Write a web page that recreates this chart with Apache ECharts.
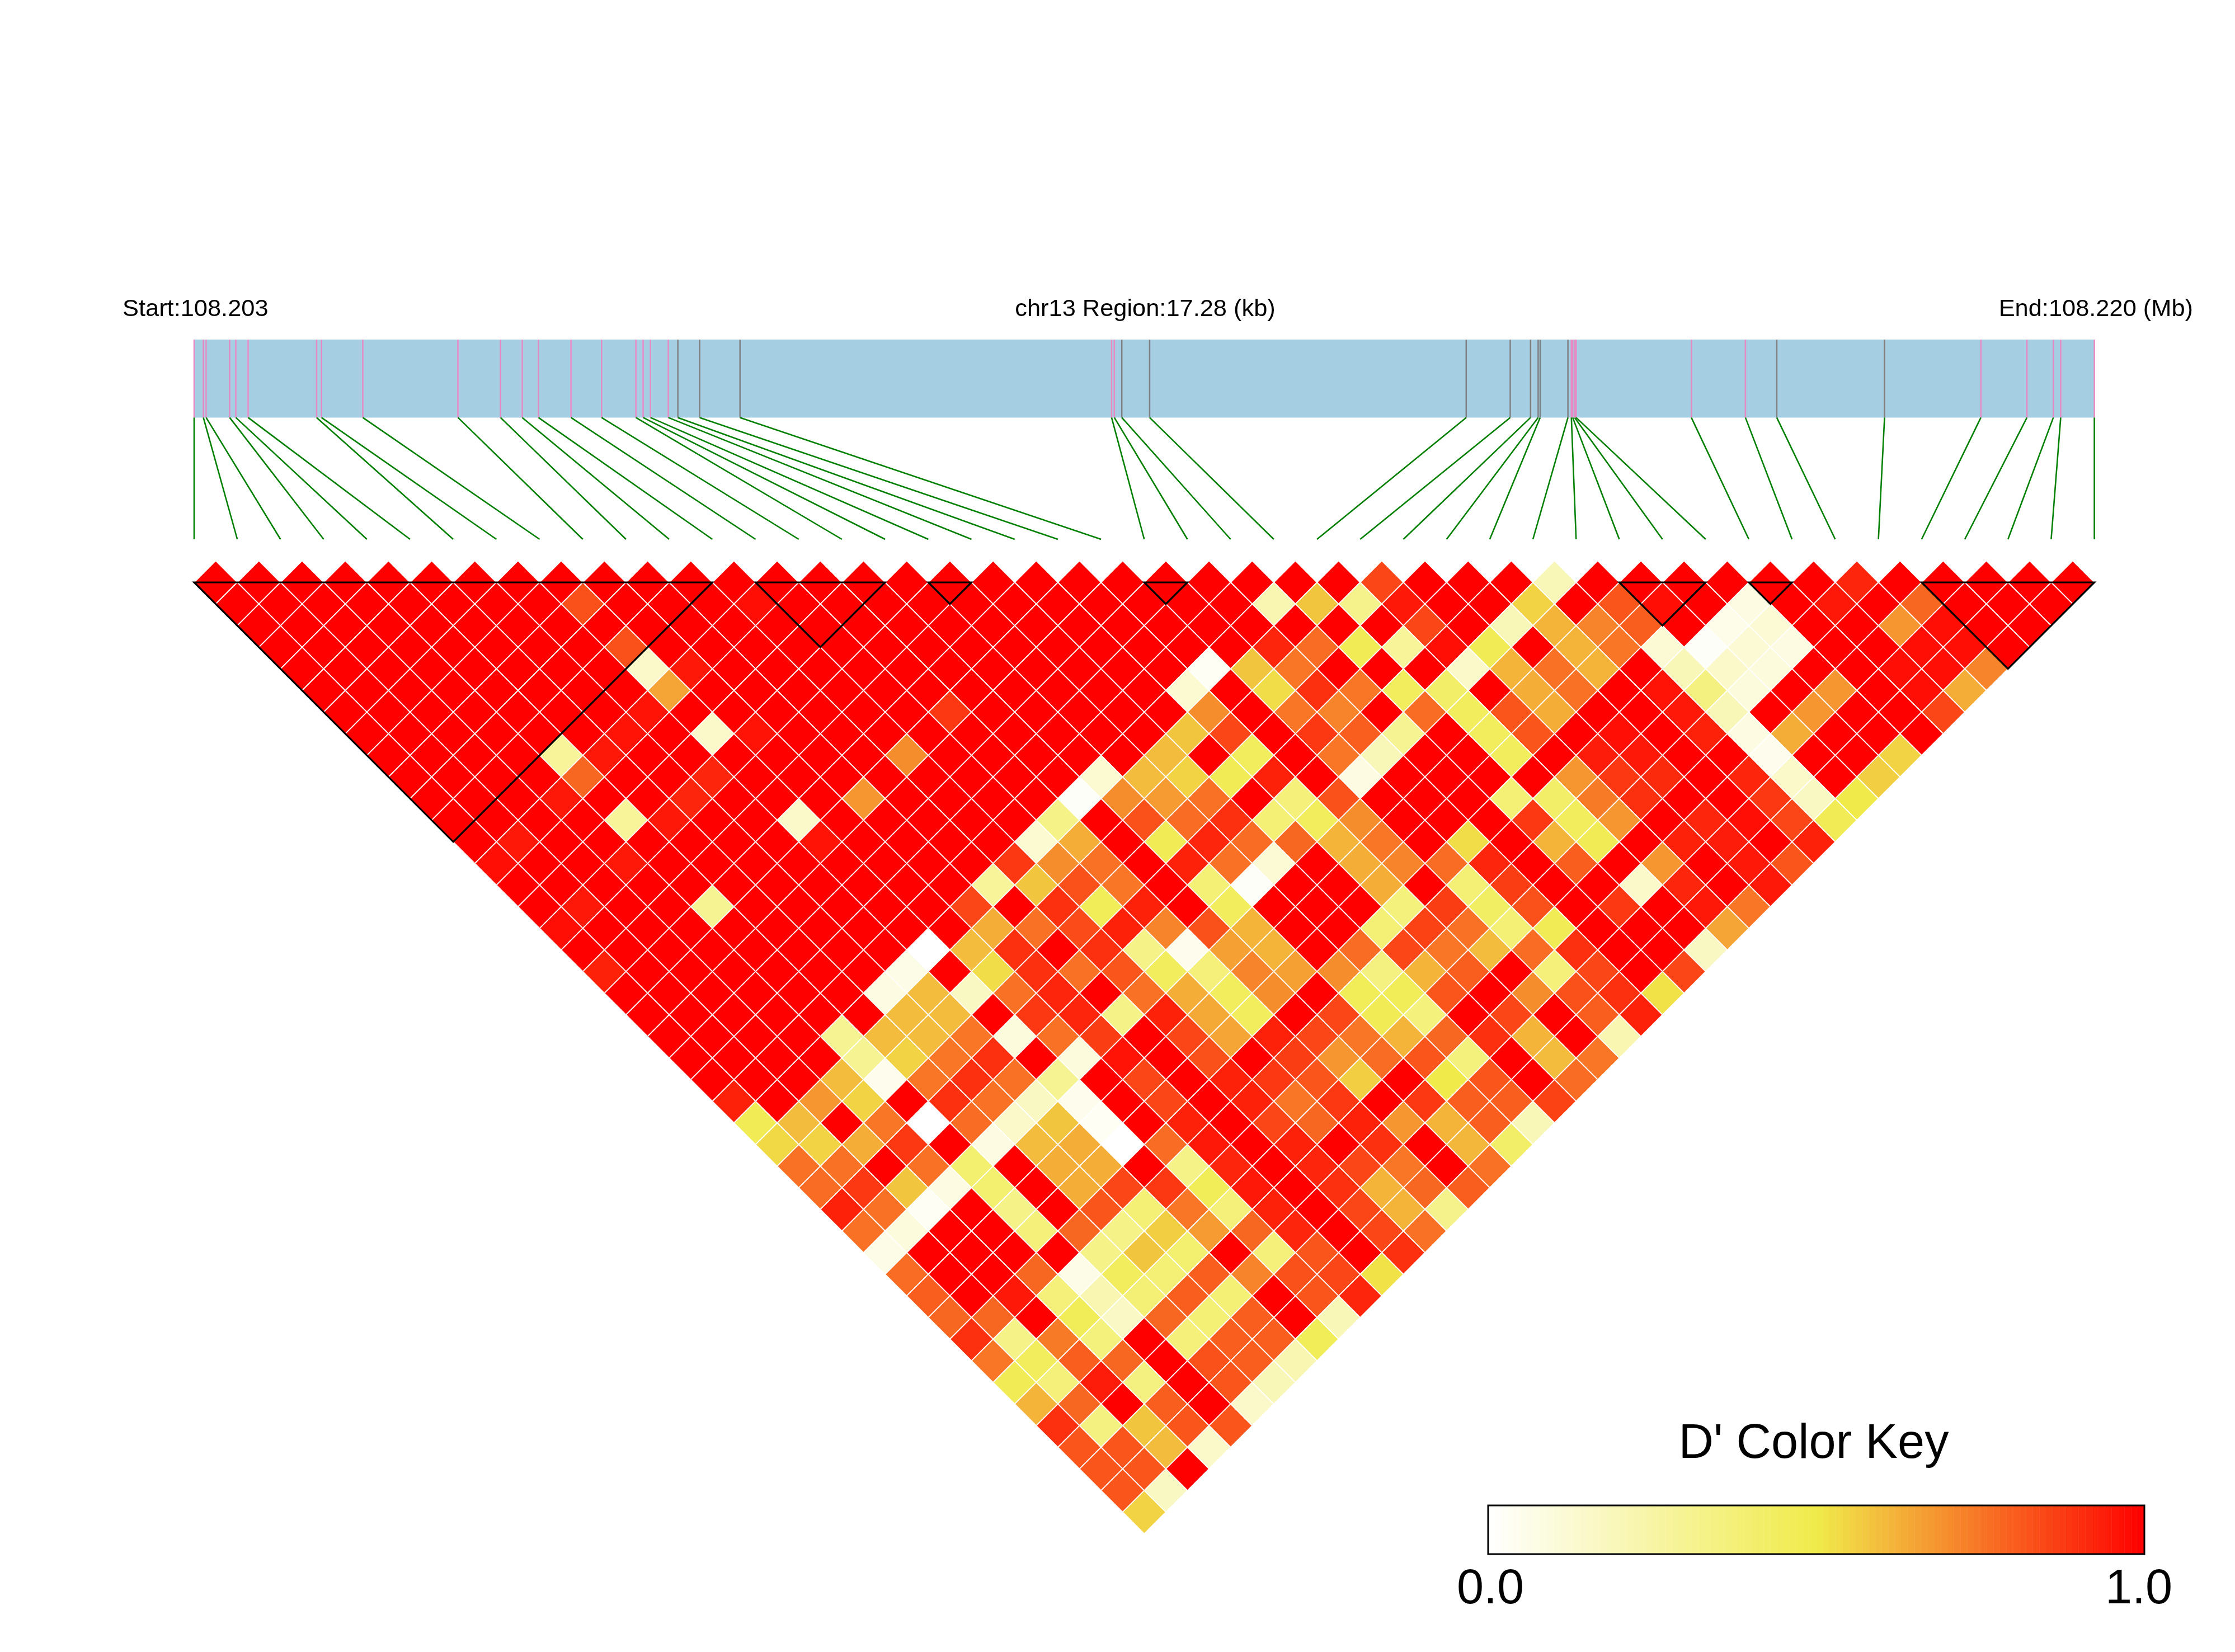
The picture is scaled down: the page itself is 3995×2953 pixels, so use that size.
<!DOCTYPE html>
<html>
<head>
<meta charset="utf-8">
<style>html,body{margin:0;padding:0;background:#fff}#chart{width:3995px;height:2953px}</style>
<script src="https://cdn.jsdelivr.net/npm/echarts@6/dist/echarts.min.js"></script>
</head>
<body>
<div id="chart"></div>
<script>
// SNP positions along the region, in kb from the region start
const snpKb = [0,0.084,0.109,0.323,0.379,0.491,1.114,1.158,1.534,2.399,2.786,2.984,3.131,3.427,3.705,4.017,4.083,4.150,4.312,4.399,4.597,4.964,
  8.343,8.368,8.436,8.689,11.568,11.968,12.153,12.222,12.240,12.493,12.524,12.536,12.554,12.567,13.615,14.107,14.392,15.372,16.248,16.667,16.907,16.974,17.28];
// 1 = pink marker, 0 = grey marker
const snpPink = [1,1,1,1,1,1,1,1,1,1,1,1,1,1,1,1,1,1,1,0,0,0,1,1,0,0,0,0,0,0,0,0,1,1,1,1,1,1,0,0,1,1,1,1,1];
// LD blocks: first and last SNP index
const blockStart = [0,13,17,22,33,36,40];
const blockEnd   = [12,16,18,23,35,37,44];
// D' values by distance between SNPs (row 1 = neighbours)
const row01 = [1,1,1,1,1,1,1,1,1,1,1,1,1,1,1,1,1,1,1,1,1,1,1,1,1,1,1,.85,1,1,1,.2,1,1,1,1,1,1,.92,1,1,1,1,1];
const row02 = [1,1,1,1,1,1,1,1,.83,1,1,1,.97,1,1,1,1,1,1,1,1,1,1,1,.22,.58,.32,.95,1,1,.55,1,.82,.97,1,.08,1,.95,1,.78,1,1,1];
const row03 = [1,1,1,1,1,1,1,1,1,1,1,1,1,1,1,1,1,1,1,1,1,1,1,1,1,1,1,.85,1,.2,.62,.72,.8,1,.06,.12,1,1,.68,.97,1,1];
const row04 = [1,1,1,1,1,1,1,1,.83,1,1,1,1,1,1,1,1,1,1,1,1,1,1,.92,.77,.47,.28,.97,.47,1,.62,.75,.12,.02,.12,.08,1,1,.97,.97,1];
const row05 = [1,1,1,1,1,1,1,1,.15,.95,1,1,1,1,1,1,1,1,1,1,1,.03,.58,.75,1,1,1,.15,.62,.76,.62,1,.2,.15,.1,1,1,.97,.97,.72];
const row06 = [1,1,1,1,1,1,1,1,.65,1,1,1,1,1,1,1,1,1,1,1,.13,1,.53,.9,.75,.45,.42,1,.63,.76,1,.96,.35,.1,1,.68,1,.97,.63];
const row07 = [1,1,1,1,1,1,1,.96,1,1,1,1,1,1,.88,1,1,1,1,1,.7,1,.75,.72,1,.77,.45,.82,.63,1,1,.95,.2,1,.68,1,1,.85];
const row08 = [1,1,1,1,1,1,.96,1,.15,.96,1,1,1,1,1,1,1,1,1,.58,.85,1,.88,.8,.3,1,.45,.82,1,.97,1,.93,.08,.63,1,1,1];
const row09 = [1,1,1,1,.28,.95,1,1,1,1,1,1,.7,1,1,1,1,1,.6,1,.45,1,.75,.2,1,1,.45,1,.94,.95,1,1,.05,1,1,.55];
const row10 = [1,1,1,1,.78,1,1,.92,1,1,1,1,1,1,1,1,.13,.6,.55,.47,.93,1,.08,1,1,1,1,.68,.88,.91,1,.92,.15,1,.56];
const row11 = [1,1,1,.95,1,1,.92,1,1,1,.68,1,1,1,1,.02,.7,.67,.76,1,.37,.83,1,1,1,.38,.42,.74,.9,1,1,.88,.17,.5];
const row12 = [1,1,1,1,.28,.95,1,1,.15,1,1,1,1,1,.33,1,.83,.77,.9,.38,.45,.7,1,1,1,.88,.45,.68,1,.92,.97,.85,.47];
const row13 = [1,.95,1,1,1,1,1,1,.96,1,1,1,1,.13,.63,1,.47,.92,.77,.78,.62,.75,1,.53,1,.62,.47,1,.93,.94,1,.93];
const row14 = [.97,1,1,.95,1,1,1,1,1,1,1,1,.88,.7,.76,1,.93,.76,.12,1,.63,.72,.77,.92,1,.8,1,.68,1,.95,.82];
const row15 = [1,1,1,1,1,1,1,1,1,1,1,.28,.58,.83,.75,1,.38,.02,1,1,.63,1,.38,.87,1,1,.15,.92,1,.95];
const row16 = [1,.95,1,1,.3,1,1,1,1,1,.85,1,.9,.46,.93,1,.45,1,1,1,.36,.87,.43,.83,1,.88,1,.95,.75];
const row17 = [.97,1,1,1,1,1,1,1,1,1,.63,.76,.84,.93,.72,.83,.62,1,1,.38,.86,.76,.38,.47,1,1,1,.65];
const row18 = [1,1,1,1,1,1,1,1,0,.6,.9,1,.9,.33,.05,.66,.62,1,.77,.85,.75,.6,.77,.9,1,1,.17];
const row19 = [.93,1,1,1,1,1,1,.07,1,.53,.9,.76,.82,.45,.37,.72,.66,.7,.35,.62,.8,1,.37,.85,1,.85];
const row20 = [1,1,1,1,1,1,.08,.6,.17,.76,.92,1,.76,.63,.45,.7,1,.46,.46,.82,1,.7,.83,.9,.52];
const row21 = [1,1,1,1,1,1,.6,.6,1,.88,.92,.33,.93,.64,.45,1,.85,.47,.36,1,.85,1,.8,.93];
const row22 = [1,1,1,1,.3,.6,.6,.75,.1,.76,.87,1,.85,.65,.93,.85,.75,.62,.78,.9,.62,1,.22];
const row23 = [1,1,1,1,.3,.55,.75,.9,1,.1,.96,1,.83,1,.87,.68,.77,.82,.36,1,.6,.75];
const row24 = [1,1,1,.6,.05,.75,.9,.76,.3,1,.85,1,.93,.88,.82,.56,1,.5,.82,1,.77];
const row25 = [.93,1,.68,.55,1,.9,.76,.17,.05,1,.85,1,.93,.75,.88,1,.88,.8,.8,.86];
const row26 = [.47,.6,1,.75,0,.77,.15,.58,.03,1,.93,1,.85,.78,.93,.68,.62,.8,.2];
const row27 = [.54,.55,.63,.88,1,.08,.6,.63,0,.77,.95,1,.93,1,.9,1,.61,.42];
const row28 = [.76,.76,1,.76,.4,1,.63,.63,1,.33,.92,1,.92,.85,.75,1,.76];
const row29 = [.77,.88,.58,.08,.4,1,.63,.85,.88,.46,.95,1,.9,.62,.78,.8];
const row30 = [.93,.76,.03,1,.33,1,.82,.38,.75,.37,.93,1,.85,.62,.32];
const row31 = [.76,.1,1,1,.37,.78,.33,.56,.67,.78,.92,1,.85,.76];
const row32 = [.07,1,1,1,1,.33,.58,.4,1,.37,.82,1,.9];
const row33 = [.77,1,1,.78,.07,.45,.38,.8,.72,.83,.85,.52];
const row34 = [.8,1,.95,.37,.22,.38,.8,.38,1,.82,.92];
const row35 = [.78,.78,1,.46,.16,.78,.38,.8,1,.2];
const row36 = [.9,.33,.74,.36,1,.37,.8,.8,.46];
const row37 = [.75,.45,.8,.78,1,.83,.8,.22];
const row38 = [.47,.37,.94,.35,1,.82,.2];
const row39 = [.62,.78,1,.8,1,.15];
const row40 = [.9,.35,.58,.82,.82];
const row41 = [.82,.82,.6,.15];
const row42 = [.82,.82,1];
const row43 = [.82,.17];
const row44 = [.55];
const keyLabels = ['0.0','1.0'];
const regionKb = 17.28;

const rows = [row01,row02,row03,row04,row05,row06,row07,row08,row09,row10,row11,row12,row13,row14,row15,row16,row17,row18,row19,row20,row21,row22,
  row23,row24,row25,row26,row27,row28,row29,row30,row31,row32,row33,row34,row35,row36,row37,row38,row39,row40,row41,row42,row43,row44];

function mix(a,b,t){return a.map((v,i)=>Math.round(v+(b[i]-v)*t));}
function dColor(v){
  const w=[255,255,255], y=[240,235,75], r=[255,0,0];
  const c = v<0.5 ? mix(w,y,v/0.5) : mix(y,r,(v-0.5)/0.5);
  return 'rgb('+c.join(',')+')';
}

const cells=[];
rows.forEach((row,ri)=>row.forEach((v,p)=>cells.push([p,ri+1,v])));
const tickOf = i => i/(snpKb.length-1)*regionKb;
const trackBottom = 0.3905;
const markers = snpKb.map((k,i)=>[k,snpPink[i]]);
const links = snpKb.map((k,i)=>[k,tickOf(i)]);
const blocks = blockStart.map((s,i)=>[s,blockEnd[i]]);
const keySteps = Array.from({length:100},(_,i)=>[i/100,(i+1)/100]);

const chart = echarts.init(document.getElementById('chart'),null,{renderer:'canvas'});
const FONT='"Liberation Sans", Arial, sans-serif';
const txt=(text,x,y,size,align)=>({type:'text',x:x,y:y,silent:true,style:{text:text,font:size+'px '+FONT,fill:'#000',textAlign:align,textVerticalAlign:'middle'}});
chart.setOption({
  animation:false,
  backgroundColor:'#fff',
  grid:[
    {left:347,top:1002.35,width:3396.6,height:1739.25},
    {left:347,top:607,width:3396.6,height:357},
    {left:2660,top:2691,width:1173,height:87}
  ],
  xAxis:[
    {gridIndex:0,type:'value',min:0,max:44,show:false},
    {gridIndex:1,type:'value',min:0,max:regionKb,show:false},
    {gridIndex:2,type:'value',min:0,max:1,show:false}
  ],
  yAxis:[
    {gridIndex:0,type:'value',min:0,max:45,inverse:true,show:false},
    {gridIndex:1,type:'value',min:0,max:1,inverse:true,show:false},
    {gridIndex:2,type:'value',min:0,max:1,show:false}
  ],
  graphic:[
    txt('Start:108.203',219,553,43.4,'left'),
    txt('chr13 Region:17.28 (kb)',2047,553,43.4,'center'),
    txt('End:108.220 (Mb)',3920,553,43.4,'right'),
    txt("D' Color Key",3242,2582,86.5,'center'),
    txt(keyLabels[0],2664,2842,86.5,'center'),
    txt(keyLabels[1],3823,2842,86.5,'center')
  ],
  series:[
    {type:'custom',xAxisIndex:1,yAxisIndex:1,coordinateSystem:'cartesian2d',data:[[0,regionKb]],z:1,silent:true,
     renderItem:(p,api)=>{const a=api.coord([api.value(0),0]),b=api.coord([api.value(1),trackBottom]);
       return {type:'rect',shape:{x:a[0],y:a[1],width:b[0]-a[0],height:b[1]-a[1]},style:{fill:'#A6CEE3'}};}},
    {type:'custom',xAxisIndex:1,yAxisIndex:1,coordinateSystem:'cartesian2d',data:markers,z:2,silent:true,
     renderItem:(p,api)=>{const a=api.coord([api.value(0),0]),b=api.coord([api.value(0),trackBottom]);
       return {type:'line',shape:{x1:a[0],y1:a[1],x2:b[0],y2:b[1]},style:{stroke:api.value(1)?'#E78AC3':'#808080',lineWidth:2.5}};}},
    {type:'custom',xAxisIndex:1,yAxisIndex:1,coordinateSystem:'cartesian2d',data:links,z:2,silent:true,
     renderItem:(p,api)=>{const a=api.coord([api.value(0),trackBottom]),b=api.coord([api.value(1),1]);
       return {type:'line',shape:{x1:a[0],y1:a[1],x2:b[0],y2:b[1]},style:{stroke:'#008000',lineWidth:2.6}};}},
    {type:'custom',xAxisIndex:0,yAxisIndex:0,coordinateSystem:'cartesian2d',data:cells,z:3,silent:true,
     renderItem:(p,api)=>{
       const i=api.value(0),r=api.value(1),x=i+r/2;
       const pts=[[x,r-1],[x+.5,r],[x,r+1],[x-.5,r]].map(q=>api.coord(q));
       return {type:'polygon',shape:{points:pts},style:{fill:dColor(api.value(2)),stroke:'#fff',lineWidth:1.8}};}},
    {type:'custom',xAxisIndex:0,yAxisIndex:0,coordinateSystem:'cartesian2d',data:blocks,z:4,silent:true,
     renderItem:(p,api)=>{
       const s=api.value(0),e=api.value(1);
       const pts=[[s,1],[e,1],[(s+e)/2,1+(e-s)]].map(q=>api.coord(q));
       return {type:'polygon',shape:{points:pts},style:{fill:'none',stroke:'#000',lineWidth:3.2}};}},
    {type:'custom',xAxisIndex:2,yAxisIndex:2,coordinateSystem:'cartesian2d',data:keySteps,z:3,silent:true,
     renderItem:(p,api)=>{const a=api.coord([api.value(0),1]),b=api.coord([api.value(1),0]);
       const col=dColor((api.value(0)+api.value(1))/2);
       return {type:'rect',shape:{x:a[0],y:a[1],width:b[0]-a[0],height:b[1]-a[1]},style:{fill:col,stroke:col,lineWidth:.5}};}},
    {type:'custom',xAxisIndex:2,yAxisIndex:2,coordinateSystem:'cartesian2d',data:[[0,1]],z:4,silent:true,
     renderItem:(p,api)=>{const a=api.coord([0,1]),b=api.coord([1,0]);
       return {type:'rect',shape:{x:a[0],y:a[1],width:b[0]-a[0],height:b[1]-a[1]},style:{fill:'none',stroke:'#000',lineWidth:3}};}}
  ]
});
</script>
</body>
</html>
